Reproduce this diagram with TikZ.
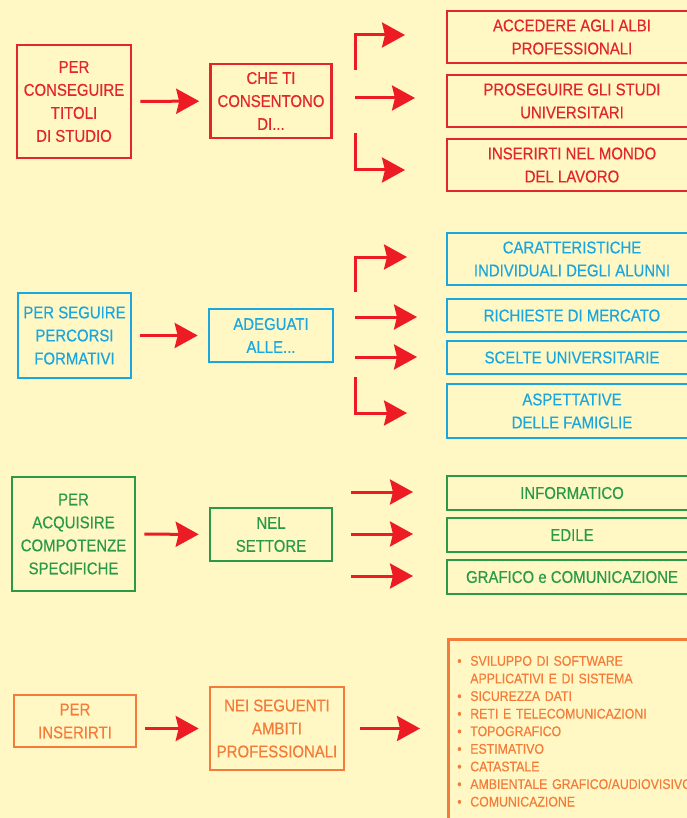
\documentclass[tikz,border=0pt]{standalone}
\usepackage{fontspec}
\setmainfont{Liberation Sans}[FakeStretch=0.88,FakeBold=0.4]
\usetikzlibrary{arrows.meta}
\definecolor{sfondo}{HTML}{FFF8C4}
\definecolor{rosso}{HTML}{E3262B}
\definecolor{freccia}{HTML}{ED1C24}
\definecolor{azzurro}{HTML}{1AA7E0}
\definecolor{verde}{HTML}{2A9A47}
\definecolor{arancio}{HTML}{F47B3A}
\tikzset{
  box/.style={draw, line width=2.6pt, inner sep=0pt, align=center,
    font=\fontsize{17}{23}\selectfont},
  arr/.style={draw=freccia, line width=3pt,
    -{Stealth[length=23pt,width=25pt,inset=3pt]}},
  link/.style={arr, shorten <=8pt, shorten >=10pt},
}
\newcommand{\itm}{\makebox[13pt][l]{\textbullet}}
\begin{document}
\begin{tikzpicture}[x=1pt,y=-1pt]
            \useasboundingbox (0,0) rectangle (687,818);
            \fill[sfondo] (0,0) rectangle (687,818);
            \clip (0,0) rectangle (687,818);

            \def\xa{74};
            \def\xb{271};
            \def\xc{572};
            \def\xv{355};
            \def\wr{250};

            \node[box, draw=rosso, text=rosso, minimum width=114, minimum height=113] (titoli) at (\xa, 101.5) {PER\\CONSEGUIRE\\TITOLI\\DI STUDIO};
            \node[box, draw=rosso, text=rosso, minimum width=121, minimum height=74] (consent) at (\xb, 101) {CHE TI\\CONSENTONO\\DI...};
            \node[box, draw=rosso, text=rosso, minimum width=\wr, minimum height=52] (albi) at (\xc, 37) {ACCEDERE AGLI ALBI\\PROFESSIONALI};
            \node[box, draw=rosso, text=rosso, minimum width=\wr, minimum height=52] (studi) at (\xc, 101) {PROSEGUIRE GLI STUDI\\UNIVERSITARI};
            \node[box, draw=rosso, text=rosso, minimum width=\wr, minimum height=52] (lavoro) at (\xc, 165) {INSERIRTI NEL MONDO\\DEL LAVORO};
            \draw[link] (titoli) -- (consent);
            \coordinate (r1a) at (\xv, 70);
            \coordinate (r1b) at (405, 35);
            \coordinate (r1c) at (\xv, 98);
            \coordinate (r1d) at (415, 98);
            \coordinate (r1e) at (\xv, 133);
            \coordinate (r1f) at (405, 170);
            \draw[arr] (r1a) |- (r1b);
            \draw[arr] (r1c) -- (r1d);
            \draw[arr] (r1e) |- (r1f);

            \node[box, draw=azzurro, text=azzurro, minimum width=113, minimum height=85] (percorsi) at (74.5, 335.5) {PER SEGUIRE\\PERCORSI\\FORMATIVI};
            \node[box, draw=azzurro, text=azzurro, minimum width=124, minimum height=53] (adeguati) at (\xb, 335.5) {ADEGUATI\\ALLE...};
            \node[box, draw=azzurro, text=azzurro, minimum width=\wr, minimum height=52] (alunni) at (\xc, 259) {CARATTERISTICHE\\INDIVIDUALI DEGLI ALUNNI};
            \node[box, draw=azzurro, text=azzurro, minimum width=\wr, minimum height=33] (mercato) at (\xc, 315.5) {RICHIESTE DI MERCATO};
            \node[box, draw=azzurro, text=azzurro, minimum width=\wr, minimum height=33] (scelte) at (\xc, 357.5) {SCELTE UNIVERSITARIE};
            \node[box, draw=azzurro, text=azzurro, minimum width=\wr, minimum height=54] (famiglie) at (\xc, 411) {ASPETTATIVE\\DELLE FAMIGLIE};
            \draw[link] (percorsi) -- (adeguati);
            \coordinate (r2a) at (\xv, 292);
            \coordinate (r2b) at (407, 257);
            \coordinate (r2c) at (\xv, 317);
            \coordinate (r2d) at (417, 317);
            \coordinate (r2e) at (\xv, 357);
            \coordinate (r2f) at (417, 357);
            \coordinate (r2g) at (\xv, 377);
            \coordinate (r2h) at (407, 413);
            \draw[arr] (r2a) |- (r2b);
            \draw[arr] (r2c) -- (r2d);
            \draw[arr] (r2e) -- (r2f);
            \draw[arr] (r2g) |- (r2h);

            \node[box, draw=verde, text=verde, minimum width=123, minimum height=114] (compet) at (73.5, 534) {PER\\ACQUISIRE\\COMPOTENZE\\SPECIFICHE};
            \node[box, draw=verde, text=verde, minimum width=122, minimum height=53] (settore) at (\xb, 534.5) {NEL\\SETTORE};
            \node[box, draw=verde, text=verde, minimum width=\wr, minimum height=34] (inform) at (\xc, 493) {INFORMATICO};
            \node[box, draw=verde, text=verde, minimum width=\wr, minimum height=34] (edile) at (\xc, 535) {EDILE};
            \node[box, draw=verde, text=verde, minimum width=\wr, minimum height=34] (grafico) at (\xc, 577) {GRAFICO e COMUNICAZIONE};
            \draw[link] (compet) -- (settore);
            \foreach \y [count=\i] in {492, 534, 576} {
                \coordinate (r3a\i) at (351, \y);
                \coordinate (r3b\i) at (413, \y);
                \draw[arr] (r3a\i) -- (r3b\i);
            }

            \node[box, draw=arancio, text=arancio, minimum width=122, minimum height=52] (inserirti) at (75, 721) {PER\\INSERIRTI};
            \node[box, draw=arancio, text=arancio, minimum width=134, minimum height=83] (ambiti) at (277, 728.5) {NEI SEGUENTI\\AMBITI\\PROFESSIONALI};
            \node[box, draw=arancio, text=arancio, align=left, anchor=north west, minimum width=300, minimum height=184,
                text width=282, inner xsep=9, font=\fontsize{14}{17.6}\selectfont] (elenco) at (447, 638)
                {\itm SVILUPPO DI SOFTWARE\\
                 \hspace*{13pt}APPLICATIVI E DI SISTEMA\\
                 \itm SICUREZZA DATI\\
                 \itm RETI E TELECOMUNICAZIONI\\
                 \itm TOPOGRAFICO\\
                 \itm ESTIMATIVO\\
                 \itm CATASTALE\\
                 \itm AMBIENTALE GRAFICO/AUDIOVISIVO\\
                 \itm COMUNICAZIONE};
            \draw[link] (inserirti.east |- ambiti.west) -- (ambiti.west);
            \draw[arr, shorten <=15pt, shorten >=27pt] (ambiti.east) -- (elenco.west |- ambiti.east);
        \end{tikzpicture}
\end{document}
